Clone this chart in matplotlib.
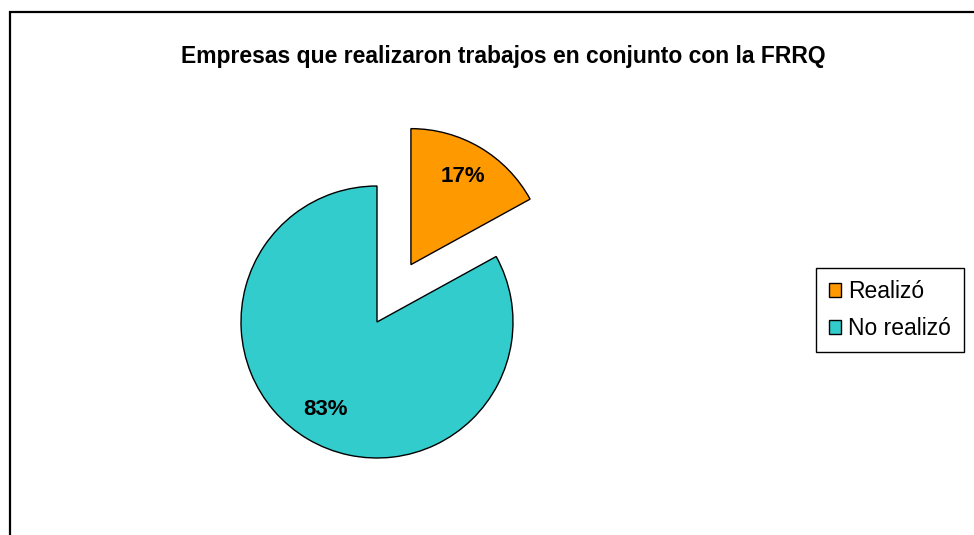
import matplotlib
matplotlib.use("Agg")
import matplotlib.pyplot as plt
from matplotlib.patches import Rectangle, Patch

TITLE = "Empresas que realizaron trabajos en conjunto con la FRRQ"
LABELS = ["Realizó", "No realizó"]
VALUES = [17, 83]
COLORS = ["#FF9900", "#33CCCC"]
EXPLODE = [0.49, 0]

W, H = 974, 535
CX, CY, R = 377, 322, 136   # pie centre / radius in pixels

plt.rcParams['font.family'] = ['Liberation Sans', 'DejaVu Sans']

fig = plt.figure(figsize=(W / 100, H / 100), dpi=100)
ax = fig.add_axes([0, 0, 1, 1])

wedges, texts, autotexts = ax.pie(VALUES, colors=COLORS, explode=EXPLODE,
                                  startangle=90, counterclock=False,
                                  autopct='%1.0f%%', pctdistance=0.75,
                                  wedgeprops={'edgecolor': 'black', 'linewidth': 1.0})
for t in autotexts:
    t.set_fontsize(16)
    t.set_fontweight('bold')
    t.set_color('black')

ax.set_aspect('auto')
ax.set_xlim(-CX / R, (W - CX) / R)
ax.set_ylim(-(H - CY) / R, CY / R)
ax.axis('off')

fig.text(503 / W, 1 - 57 / H, TITLE, ha='center', va='center',
         fontsize=16.5, fontweight='bold')

handles = [Patch(facecolor=c, edgecolor='black', linewidth=1.0) for c in COLORS]
leg = fig.legend(handles, LABELS, loc='center left',
                 bbox_to_anchor=(816 / W, 1 - 310 / H),
                 fontsize=16.5, frameon=True, fancybox=False, shadow=False,
                 handlelength=0.55, handleheight=0.55, handletextpad=0.3,
                 labelspacing=0.6, borderpad=0.55, borderaxespad=0)
leg.get_frame().set_edgecolor('black')
leg.get_frame().set_linewidth(1.0)
leg.get_frame().set_alpha(1)

fig.patches.append(Rectangle((10 / W, -0.1), 2, 1 - 12 / H + 0.1,
                             transform=fig.transFigure, fill=False,
                             edgecolor='black', linewidth=1.6))

fig.savefig("out.png", dpi=100)
